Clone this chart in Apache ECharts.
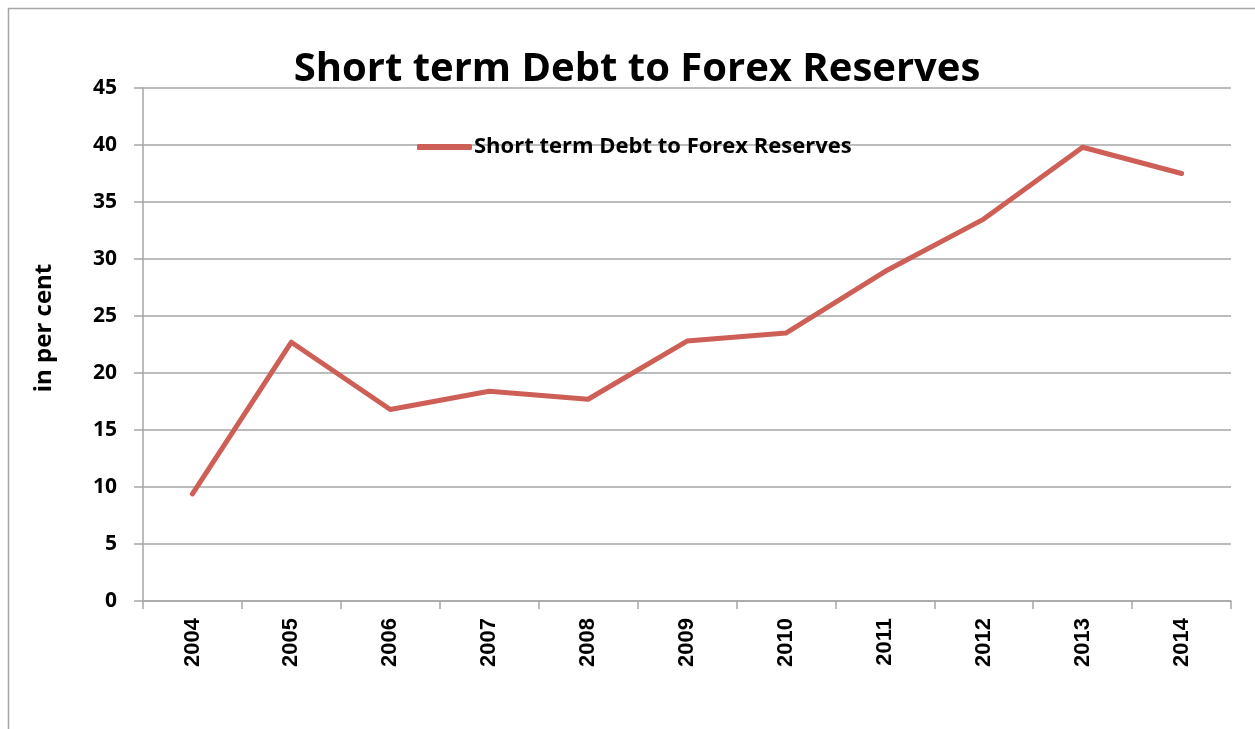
<!DOCTYPE html>
<html>
<head>
<meta charset="utf-8">
<script src="https://cdn.jsdelivr.net/npm/echarts@6/dist/echarts.min.js"></script>
<style>
html, body { margin: 0; padding: 0; background: #fff; }
#chart { width: 1255px; height: 729px; }
</style>
</head>
<body>
<div id="chart"></div>
<script>
const years = ['2004', '2005', '2006', '2007', '2008', '2009', '2010', '2011', '2012', '2013', '2014'];
const debtRatio = [9.4, 22.7, 16.8, 18.4, 17.7, 22.8, 23.5, 28.9, 33.5, 39.8, 37.5];
const seriesName = 'Short term Debt to Forex Reserves';

const myChart = echarts.init(document.getElementById('chart'));
const option = {
    animation: false,
    color: ['#cd5f57'],
    title: {
        text: 'Short term Debt to Forex Reserves',
        left: 632,
        top: 45,
        textAlign: 'center',
        textStyle: { fontFamily: 'Open Sans', fontWeight: 'bold', fontSize: 40, color: '#000' }
    },
    graphic: [{
        type: 'rect',
        shape: { x: 8.5, y: 8.5, width: 1300, height: 800 },
        style: { fill: 'none', stroke: '#a6a6a6', lineWidth: 1.5 },
        silent: true
    }],
    legend: {
        data: [seriesName],
        left: 412,
        top: 131,
        itemWidth: 55,
        itemHeight: 6,
        itemGap: 4,
        icon: 'roundRect',
        textStyle: { fontFamily: 'Open Sans', fontWeight: 'bold', fontSize: 22, color: '#000', padding: [0, 0, 0, -3] }
    },
    grid: { left: 143, right: 24, top: 88, bottom: 128 },
    xAxis: {
        type: 'category',
        data: years,
        boundaryGap: true,
        axisLine: { lineStyle: { color: '#a6a6a6', width: 1.5 } },
        axisTick: { show: true, length: 8, lineStyle: { color: '#a6a6a6', width: 1.5 } },
        axisLabel: {
            rotate: 90, margin: 17, color: '#000',
            fontFamily: 'Liberation Sans', fontWeight: 'bold', fontSize: 22
        }
    },
    yAxis: {
        type: 'value',
        min: 0,
        max: 45,
        interval: 5,
        name: 'in per cent',
        nameLocation: 'middle',
        nameGap: 87,
        nameRotate: 90,
        nameTextStyle: { fontFamily: 'Open Sans', fontWeight: 'bold', fontSize: 24, color: '#000', padding: [0, 0, 0, 33] },
        axisLine: { show: true, lineStyle: { color: '#a6a6a6', width: 1.5 } },
        axisTick: { show: true, length: 9, lineStyle: { color: '#a6a6a6', width: 1.5 } },
        axisLabel: { margin: 26, color: '#000', fontFamily: 'Open Sans', fontWeight: 'bold', fontSize: 21 },
        splitLine: { lineStyle: { color: '#a6a6a6', width: 1.5 } }
    },
    series: [{
        name: seriesName,
        type: 'line',
        data: debtRatio,
        showSymbol: false,
        lineStyle: { width: 5, cap: 'round', join: 'round' }
    }]
};
myChart.setOption(option);
</script>
</body>
</html>
